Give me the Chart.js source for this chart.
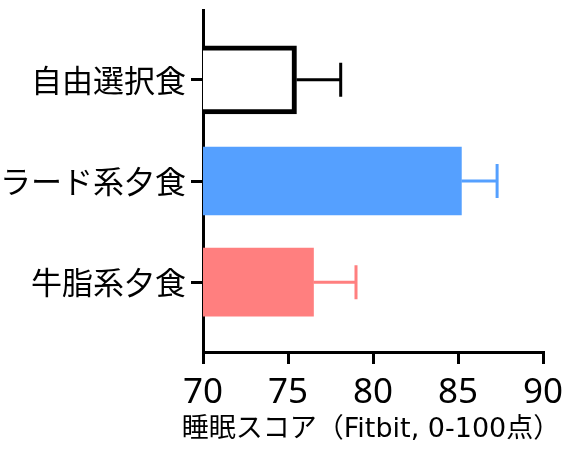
<!DOCTYPE html>
<html lang="ja">
<head>
<meta charset="UTF-8">
<title>睡眠スコア</title>
<script src="https://cdn.jsdelivr.net/npm/chart.js@4"></script>
<style>
  html, body { margin: 0; padding: 0; background: #fff; }
  #wrap { position: relative; width: 575px; height: 462px; }
</style>
</head>
<body>
<div id="wrap"><canvas id="chart"></canvas></div>
<script>
  // data
  const groups = ['自由選択食', 'ラード系夕食', '牛脂系夕食'];
  const scores = [75.5, 85.2, 76.5];
  const errors = [2.6, 2.1, 2.5];   // upper error only
  const xTicks = [70, 75, 80, 85, 90];
  const xTitle = '睡眠スコア（Fitbit, 0-100点）';
  const fills = ['#ffffff', '#55a0ff', '#ff7f7f'];
  const edges = ['#000000', '#55a0ff', '#ff7f7f'];

  const FONT = '"Noto Sans CJK JP", "Noto Sans", sans-serif';
  const FONT_NUM = '"Noto Sans", "Noto Sans CJK JP", sans-serif';
  const FONT_WIDE = '"DejaVu Sans", "Noto Sans CJK JP", sans-serif';

  // draws the one-sided error bars with caps
  const errorBars = {
    id: 'errorBars',
    afterDatasetsDraw(chart) {
      const { ctx, scales: { x, y } } = chart;
      ctx.save();
      ctx.lineWidth = 3;
      groups.forEach((g, i) => {
        const yc = y.getPixelForValue(i);
        const x0 = x.getPixelForValue(scores[i]);
        const x1 = x.getPixelForValue(scores[i] + errors[i]);
        ctx.strokeStyle = edges[i];
        ctx.beginPath();
        ctx.moveTo(x0, yc);
        ctx.lineTo(x1, yc);
        ctx.moveTo(x1, yc - 17);
        ctx.lineTo(x1, yc + 17);
        ctx.stroke();
      });
      ctx.restore();
    }
  };

  // the built-in scale title squeezes text to the axis width, so draw it here
  const axisTitle = {
    id: 'axisTitle',
    afterDraw(chart) {
      const { ctx, scales: { x } } = chart;
      ctx.save();
      ctx.font = '27px ' + FONT_WIDE;
      ctx.fillStyle = '#000';
      ctx.textAlign = 'center';
      ctx.textBaseline = 'middle';
      ctx.fillText(xTitle, (x.left + x.right) / 2 - 2, x.bottom - 32);
      ctx.restore();
    }
  };

  new Chart(document.getElementById('chart'), {
    type: 'bar',
    data: {
      datasets: [{
        data: groups.map((g, i) => ({ x: scores[i], y: i })),
        backgroundColor: fills,
        borderColor: edges,
        borderWidth: [5, 0, 0],
        barThickness: 68
      }]
    },
    options: {
      indexAxis: 'y',
      responsive: true,
      maintainAspectRatio: false,
      animation: false,
      layout: { padding: { top: 10, right: 32, bottom: 0, left: 0 } },
      plugins: { legend: { display: false }, tooltip: { enabled: false } },
      scales: {
        x: {
          type: 'linear',
          min: 70,
          max: 90,
          afterBuildTicks: s => { s.ticks = xTicks.map(v => ({ value: v })); },
          afterFit: s => { s.height = 110; s.paddingLeft = 0; s.paddingRight = 0; },
          border: { color: '#000', width: 3 },
          grid: { drawOnChartArea: false, color: '#000', lineWidth: 3, tickLength: 12 },
          ticks: { color: '#000', padding: 8, maxRotation: 0, font: { family: FONT_NUM, size: 35 } }
        },
        y: {
          type: 'linear',
          reverse: true,
          offset: false,
          min: -0.69,
          max: 2.69,
          afterBuildTicks: s => { s.ticks = groups.map((g, i) => ({ value: i })); },
          afterFit: s => { s.width = 203; s.paddingTop = 0; s.paddingBottom = 0; },
          border: { color: '#000', width: 3 },
          grid: { offset: false, drawOnChartArea: false, color: '#000', lineWidth: 3, tickLength: 12 },
          ticks: {
            color: '#000',
            padding: 5,
            autoSkip: false,
            font: { family: FONT, size: 31 },
            callback: v => groups[v] ?? ''
          }
        }
      }
    },
    plugins: [errorBars, axisTitle]
  });
</script>
</body>
</html>
